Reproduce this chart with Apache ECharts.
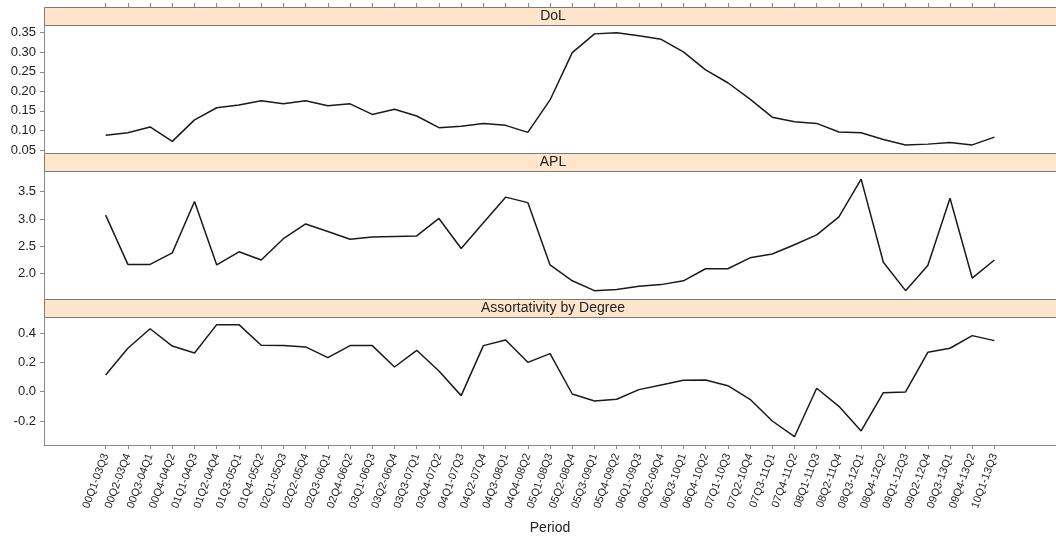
<!DOCTYPE html>
<html>
<head>
<meta charset="utf-8">
<script src="https://cdn.jsdelivr.net/npm/echarts@6/dist/echarts.min.js"></script>
<style>
  html, body { margin: 0; padding: 0; background: #fff; }
  #chart { width: 1056px; height: 536px; }
</style>
</head>
<body>
<div id="chart"></div>
<script>
// Rolling windows (start quarter - end quarter)
const periods = [
  '00Q1-03Q3','00Q2-03Q4','00Q3-04Q1','00Q4-04Q2','01Q1-04Q3','01Q2-04Q4','01Q3-05Q1',
  '01Q4-05Q2','02Q1-05Q3','02Q2-05Q4','02Q3-06Q1','02Q4-06Q2','03Q1-06Q3','03Q2-06Q4',
  '03Q3-07Q1','03Q4-07Q2','04Q1-07Q3','04Q2-07Q4','04Q3-08Q1','04Q4-08Q2','05Q1-08Q3',
  '05Q2-08Q4','05Q3-09Q1','05Q4-09Q2','06Q1-09Q3','06Q2-09Q4','06Q3-10Q1','06Q4-10Q2',
  '07Q1-10Q3','07Q2-10Q4','07Q3-11Q1','07Q4-11Q2','08Q1-11Q3','08Q2-11Q4','08Q3-12Q1',
  '08Q4-12Q2','09Q1-12Q3','09Q2-12Q4','09Q3-13Q1','09Q4-13Q2','10Q1-13Q3'
];

const dol = [
  0.088, 0.094, 0.109, 0.072, 0.127, 0.158, 0.165, 0.176, 0.168, 0.176, 0.163,
  0.168, 0.141, 0.154, 0.137, 0.107, 0.111, 0.118, 0.113, 0.095, 0.178,
  0.299, 0.347, 0.350, 0.342, 0.333, 0.301, 0.255, 0.222, 0.180, 0.134,
  0.122, 0.118, 0.096, 0.094, 0.077, 0.063, 0.065, 0.069, 0.063, 0.083
];

const apl = [
  3.07, 2.17, 2.17, 2.38, 3.32, 2.16, 2.40, 2.25, 2.64, 2.91, 2.77,
  2.63, 2.67, 2.68, 2.69, 3.01, 2.46, 2.93, 3.40, 3.30, 2.16,
  1.87, 1.69, 1.71, 1.77, 1.80, 1.87, 2.09, 2.09, 2.29, 2.36,
  2.53, 2.71, 3.04, 3.73, 2.21, 1.69, 2.15, 3.38, 1.92, 2.25
];

const assort = [
  0.114, 0.296, 0.429, 0.311, 0.264, 0.457, 0.457, 0.316, 0.314, 0.305, 0.232,
  0.314, 0.314, 0.168, 0.282, 0.141, -0.027, 0.314, 0.352, 0.200, 0.259,
  -0.016, -0.064, -0.052, 0.014, 0.046, 0.078, 0.080, 0.041, -0.052, -0.200,
  -0.307, 0.023, -0.100, -0.268, -0.007, -0.002, 0.268, 0.296, 0.382, 0.348
];

const panelTitles = ['DoL', 'APL', 'Assortativity by Degree'];
const dolTicks = [0.05, 0.10, 0.15, 0.20, 0.25, 0.30, 0.35];
const aplTicks = [2.0, 2.5, 3.0, 3.5];
const assortTicks = [-0.2, 0.0, 0.2, 0.4];

const xTicks = periods.map((_, i) => i);
const toPairs = arr => arr.map((v, i) => [i, v]);

// Layout of the three stacked panels
const LEFT = 44, WIDTH = 1018, STRIP = 18, PANEL = 128;
const panelTops = [25, 171, 317];
const X_MIN = -2.774, X_MAX = 42.77;
const axisGray = '#8a8a8a';
const textColor = '#222';
const font = 'Liberation Sans, Arial, sans-serif';

const yRanges = [
  { min: 0.0423, max: 0.3697, ticks: dolTicks, dec: 2 },
  { min: 1.537, max: 3.878, ticks: aplTicks, dec: 1 },
  { min: -0.3636, max: 0.509, ticks: assortTicks, dec: 1 }
];
const seriesData = [dol, apl, assort];

const grids = panelTops.map(t => ({ left: LEFT, top: t, width: WIDTH, height: PANEL }));

const xAxes = [];
const yAxes = [];
panelTops.forEach((t, k) => {
  const isBottom = k === 2;
  xAxes.push({
    type: 'value', gridIndex: k, min: X_MIN, max: X_MAX,
    position: 'bottom',
    axisLine: { show: isBottom, onZero: false, lineStyle: { color: axisGray, width: 1 } },
    axisTick: { show: isBottom, customValues: xTicks, length: 4, lineStyle: { color: axisGray } },
    axisLabel: {
      show: isBottom, customValues: xTicks, rotate: 70, margin: 9,
      fontSize: 11, fontFamily: font, color: textColor,
      formatter: v => periods[Math.round(v)] || ''
    },
    splitLine: { show: false },
    name: isBottom ? 'Period' : '',
    nameLocation: 'middle', nameGap: 76,
    nameTextStyle: { fontSize: 14, fontFamily: font, color: textColor }
  });
  const r = yRanges[k];
  yAxes.push({
    type: 'value', gridIndex: k, min: r.min, max: r.max,
    axisLine: { show: true, onZero: false, lineStyle: { color: axisGray, width: 1 } },
    axisTick: { show: true, customValues: r.ticks, length: 4, lineStyle: { color: axisGray } },
    axisLabel: {
      customValues: r.ticks, margin: 8, fontSize: 13, fontFamily: font, color: textColor,
      formatter: v => v.toFixed(r.dec)
    },
    splitLine: { show: false }
  });
});

// Tick marks along the top edge of the first strip
xAxes.push({
  type: 'value', gridIndex: 0, min: X_MIN, max: X_MAX, position: 'top', offset: STRIP,
  axisLine: { show: false, onZero: false },
  axisTick: { show: true, customValues: xTicks, length: 4, lineStyle: { color: axisGray } },
  axisLabel: { show: false },
  splitLine: { show: false }
});

const series = seriesData.map((arr, k) => ({
  type: 'line', xAxisIndex: k, yAxisIndex: k,
  data: toPairs(arr), showSymbol: false, symbol: 'none',
  lineStyle: { color: '#1a1a1a', width: 1.5 },
  animation: false
}));

// Strip headers above each panel
const graphics = [];
panelTops.forEach((t, k) => {
  graphics.push({
    type: 'rect', shape: { x: LEFT + 0.5, y: t - STRIP + 0.5, width: WIDTH, height: STRIP },
    style: { fill: '#ffe5cc', stroke: '#7a7a7a', lineWidth: 1 }, silent: true
  });
  graphics.push({
    type: 'text', x: LEFT + WIDTH / 2, y: t - STRIP / 2 + 0.5,
    style: { text: panelTitles[k], fill: textColor, font: '14px ' + font,
             textAlign: 'center', textVerticalAlign: 'middle' }, silent: true
  });
});

const chart = echarts.init(document.getElementById('chart'), null, { renderer: 'canvas' });
chart.setOption({
  animation: false,
  backgroundColor: '#fff',
  grid: grids,
  xAxis: xAxes,
  yAxis: yAxes,
  series: series,
  graphic: graphics
});
</script>
</body>
</html>
